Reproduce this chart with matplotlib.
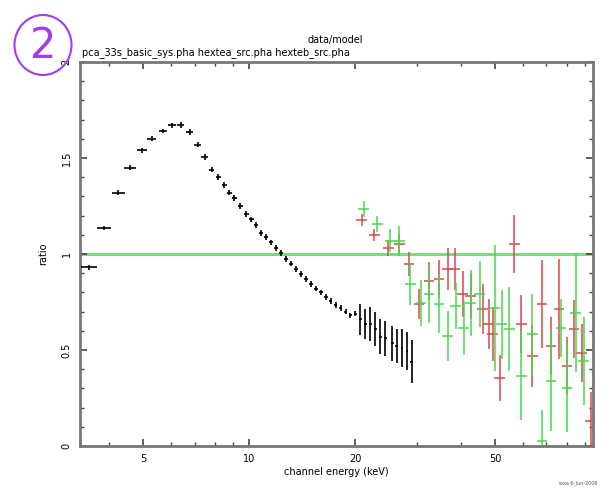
import numpy as np
import matplotlib.pyplot as plt
from matplotlib.patches import Ellipse
from matplotlib.ticker import FixedLocator, NullFormatter

# PCA data/model ratio
pca_e = [3.51, 3.87, 4.24, 4.58, 4.95, 5.28, 5.68, 6.03, 6.38, 6.77, 7.13, 7.46, 7.81,
         8.17, 8.50, 8.78, 9.07, 9.43, 9.81, 10.13, 10.46, 10.81, 11.17, 11.54, 11.92,
         12.31, 12.72, 13.14, 13.57, 14.02, 14.48, 14.96, 15.46, 15.97, 16.50, 17.04,
         17.60, 18.18, 18.79, 19.40, 20.04, 20.71, 21.39, 22.10, 22.80, 23.60, 24.40,
         25.50, 26.30, 27.20, 28.10, 29.00]
pca_ratio = [0.93, 1.135, 1.32, 1.45, 1.54, 1.60, 1.64, 1.67, 1.67, 1.635, 1.57, 1.505,
             1.44, 1.40, 1.36, 1.32, 1.29, 1.25, 1.21, 1.18, 1.15, 1.11, 1.09, 1.06, 1.03,
             1.005, 0.975, 0.95, 0.92, 0.895, 0.87, 0.845, 0.82, 0.80, 0.775, 0.755, 0.735,
             0.72, 0.70, 0.68, 0.69, 0.66, 0.635, 0.635, 0.61, 0.57, 0.56, 0.535, 0.52,
             0.51, 0.495, 0.44]
pca_de = [0.18, 0.18, 0.18, 0.17, 0.16, 0.16, 0.15, 0.15, 0.15, 0.15, 0.15, 0.15, 0.15,
          0.15, 0.15, 0.15, 0.15, 0.15, 0.15, 0.16, 0.16, 0.16, 0.16, 0.17, 0.17, 0.17,
          0.17, 0.18, 0.18, 0.18, 0.18, 0.19, 0.19, 0.19, 0.20, 0.20, 0.20, 0.21, 0.21,
          0.21, 0.22, 0.22, 0.22, 0.23, 0.23, 0.23, 0.24, 0.24, 0.25, 0.25, 0.26, 0.26]
pca_err = [0.012] * 8 + [0.015] * 33 + [0.08, 0.08, 0.09, 0.09, 0.09, 0.09, 0.09, 0.09,
                                        0.10, 0.10, 0.11]

# HEXTE cluster A
hxa_e = [20.86, 22.70, 24.86, 26.72, 28.50, 30.42, 32.45, 34.64, 36.73, 38.45, 40.47,
         42.66, 46.08, 47.91, 49.19, 51.50, 56.75, 59.41, 63.8, 68.1, 72.2, 76.0, 80.2,
         83.9, 88.3, 93.7]
hxa_ratio = [1.177, 1.099, 1.031, 1.052, 0.948, 0.740, 0.859, 0.870, 0.922, 0.922, 0.792,
             0.781, 0.714, 0.635, 0.583, 0.354, 1.052, 0.635, 0.469, 0.740, 0.521, 0.714,
             0.417, 0.609, 0.484, 0.130]
hxa_err = [0.03, 0.03, 0.04, 0.05, 0.06, 0.08, 0.10, 0.10, 0.11, 0.11, 0.12, 0.12, 0.13,
           0.13, 0.14, 0.12, 0.15, 0.15, 0.16, 0.23, 0.15, 0.26, 0.15, 0.15, 0.15, 0.15]

# HEXTE cluster B
hxb_e = [21.13, 23.14, 25.18, 26.72, 28.70, 30.83, 32.45, 34.64, 36.73, 38.70, 40.74,
         42.66, 45.20, 49.85, 52.18, 54.95, 59.41, 63.8, 68.1, 72.2, 77.1, 80.2, 84.9, 89.5]
hxb_ratio = [1.234, 1.156, 1.068, 1.068, 0.844, 0.745, 0.792, 0.740, 0.573, 0.729, 0.615,
             0.745, 0.792, 0.719, 0.635, 0.609, 0.365, 0.583, 0.026, 0.339, 0.615, 0.302,
             0.693, 0.443]
hxb_err = [0.04, 0.04, 0.06, 0.08, 0.11, 0.12, 0.15, 0.15, 0.13, 0.12, 0.14, 0.17, 0.17,
           0.33, 0.18, 0.22, 0.23, 0.21, 0.16, 0.26, 0.15, 0.23, 0.31, 0.23]
hx_frac = 0.035  # half bin width as fraction of energy

model_level = 1.0

fig = plt.figure(figsize=(6.07, 4.93), dpi=100)
ax = fig.add_axes([0.1318, 0.0953, 0.8452, 0.779])

ax.axhline(model_level, color='#6fdc6f', lw=2, zorder=1)

ax.errorbar(pca_e, pca_ratio, xerr=pca_de, yerr=pca_err, fmt='none',
            ecolor='black', elinewidth=1.2, zorder=3)
hxa_e = np.array(hxa_e)
hxb_e = np.array(hxb_e)
ax.errorbar(hxa_e, hxa_ratio, xerr=hxa_e * hx_frac, yerr=hxa_err, fmt='none',
            ecolor='#d8494c', elinewidth=1.3, alpha=0.85, zorder=2)
ax.errorbar(hxb_e, hxb_ratio, xerr=hxb_e * hx_frac, yerr=hxb_err, fmt='none',
            ecolor='#49d84c', elinewidth=1.3, alpha=0.85, zorder=2)

ax.set_xscale('log')
ax.set_xlim(3.3, 95)
ax.set_ylim(0, 2)

ax.xaxis.set_major_locator(FixedLocator([5, 10, 20, 50]))
ax.xaxis.set_minor_locator(FixedLocator([4, 6, 7, 8, 9, 30, 40, 60, 70, 80, 90]))
ax.xaxis.set_minor_formatter(NullFormatter())
ax.set_xticklabels(['5', '10', '20', '50'])
ax.yaxis.set_major_locator(FixedLocator([0, 0.5, 1, 1.5, 2]))
ax.yaxis.set_minor_locator(FixedLocator(np.arange(0.1, 2.0, 0.1)))
ax.set_yticklabels(['0', '0.5', '1', '1.5', '2'], rotation=90, va='center')

ax.tick_params(which='both', direction='in', top=True, right=True,
               color='#444444', labelsize=7, pad=6)
ax.tick_params(which='major', length=5, width=1.2)
ax.tick_params(which='minor', length=3, width=1)
for sp in ax.spines.values():
    sp.set_color('#777777')
    sp.set_linewidth(2)

ax.set_xlabel('channel energy (keV)', fontsize=7, labelpad=2)
ax.set_ylabel('ratio', fontsize=7, labelpad=10)

fig.text(0.552, 0.918, 'data/model', fontsize=7, ha='center', va='center')
fig.text(0.135, 0.893, 'pca_33s_basic_sys.pha hextea_src.pha hexteb_src.pha',
         fontsize=7, ha='left', va='center')
fig.text(0.985, 0.015, 'wxa 6-Jun-2006', fontsize=3.5, color='#555555',
         ha='right', va='bottom')

# circled label in the corner
fig.patches.append(Ellipse((43 / 607, 1 - 45 / 493), 57 / 607, 60 / 493,
                           transform=fig.transFigure, fill=False,
                           edgecolor='#a23cf0', lw=1.5))
fig.text(43 / 607, 1 - 46 / 493, '2', fontsize=30, color='#a23cf0',
         ha='center', va='center')

fig.savefig('out.png', dpi=100)
